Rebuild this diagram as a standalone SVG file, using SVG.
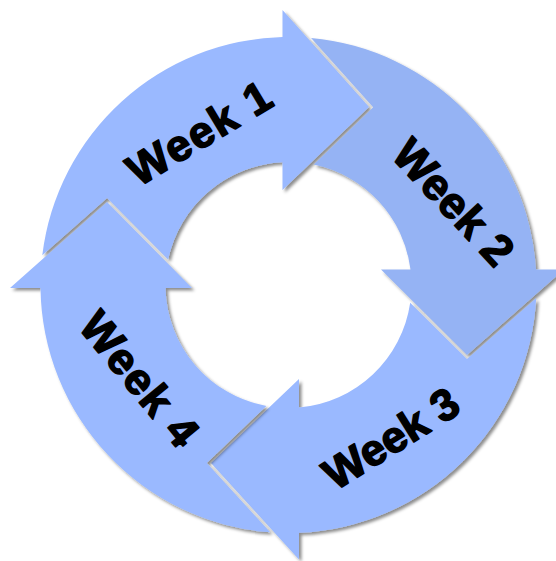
<svg xmlns="http://www.w3.org/2000/svg" width="556" height="561" viewBox="0 0 556 561">
<defs>
<filter id="sh" x="-10%" y="-10%" width="130%" height="130%">
<feDropShadow dx="2.5" dy="2.5" stdDeviation="1.5" flood-color="#000" flood-opacity="0.45"/>
</filter>
<style>
.arrow{fill:#9ab9ff;filter:url(#sh)}
.a2{fill:#95b3f4}
.lbl{font-family:"Liberation Sans",Arial,sans-serif;font-weight:bold;font-size:44px;fill:#000;stroke:#000;stroke-width:1.6;stroke-linejoin:round;text-anchor:middle}
</style>
</defs>
<rect width="556" height="561" fill="#fff"/>
<g id="cycle">
<g id="week1">
<path class="arrow" d="M42.3,255.3 A248,248 0 0 1 282.5,37.1 L282.5,10 L369,107 L282.5,190 L282.5,162.2 A123,123 0 0 0 168.1,259.6 L107.1,197.9 Z"/>
<text class="lbl" transform="translate(199.6,132.1) rotate(-31)" y="15.7" letter-spacing="1.8">Week 1</text>
</g>
<g id="week2">
<path class="arrow a2" d="M311.1,38 A248,248 0 0 1 536,269.5 L564,269.5 L467,355 L381,269.5 L410.5,269.5 A123,123 0 0 0 313.7,164.6 L373.2,107.2 Z"/>
<text class="lbl" transform="translate(454.2,202.1) rotate(47)" y="15.7" letter-spacing="0.6">Week 2</text>
</g>
<g id="week3">
<path class="arrow" d="M536.2,298 A248,248 0 0 1 299,532.8 L299,559.5 L211,463 L299,379 L299,407.6 A123,123 0 0 0 410.2,302.8 L466.9,359.1 Z"/>
<text class="lbl" transform="translate(390.8,438) rotate(-32)" y="15.7" letter-spacing="0">Week 3</text>
</g>
<g id="week4">
<path class="arrow" d="M270.2,532.3 A248,248 0 0 1 40.5,288 L10,288 L107,202 L192,288 L165.5,288 A123,123 0 0 0 266.4,406 L206.8,462.9 Z"/>
<text class="lbl" transform="translate(140.4,379.2) rotate(50.6)" y="15.7" letter-spacing="1.7">Week 4</text>
</g>
</g>
</svg>
